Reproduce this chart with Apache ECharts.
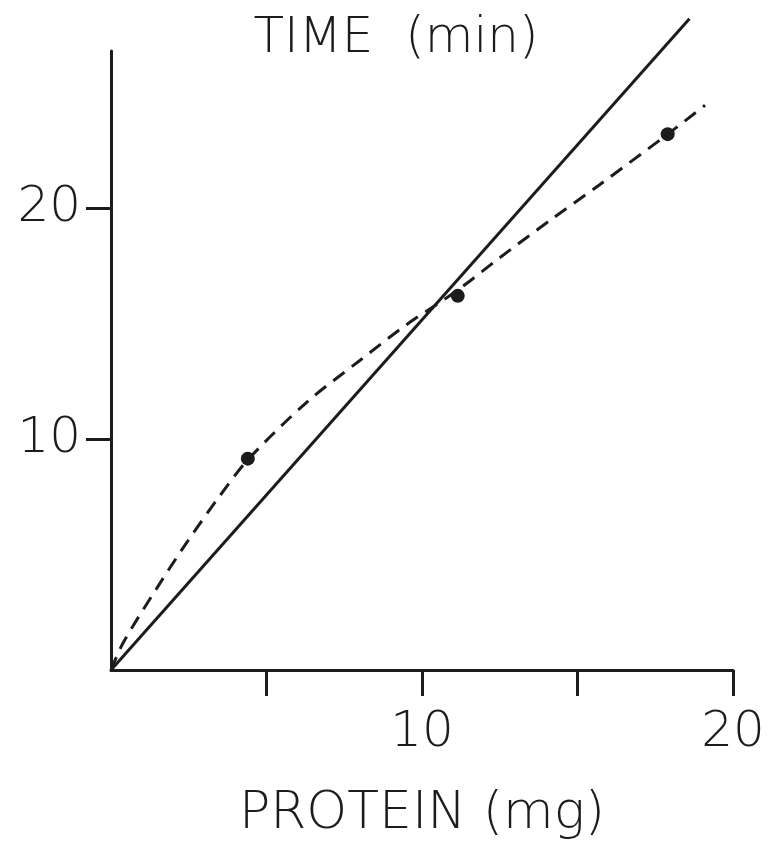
<!DOCTYPE html>
<html>
<head>
<meta charset="utf-8">
<script src="https://cdn.jsdelivr.net/npm/echarts@6/dist/echarts.min.js"></script>
<style>
    html, body { margin: 0; padding: 0; background: #fff; }
    #chart { width: 769px; height: 845px; }
</style>
</head>
<body>
<div id="chart"></div>
<script>
// 数据点 (蛋白质 mg, 时间 min)
const measured = [[4.4, 9.15], [11.15, 16.2], [17.9, 23.2]];
// 实线: 线性关系
const linearFit = [[0, 0], [18.6, 28.2]];
// 虚线: 曲线拟合
const curveFit = [
    [0, 0], [0.4, 1.2], [1.5, 3.6], [2.45, 5.55], [3.45, 7.45], [4.4, 9.1],
    [6.3, 11.6], [8.0, 13.4], [9.5, 14.95], [11.1, 16.4], [12.5, 17.85],
    [14.2, 19.55], [15.7, 21.0], [17.9, 23.2], [19.1, 24.45]
];
const xTicks = [5, 10, 15, 20];
const xLabels = [10, 20];
const yTicks = [10, 20];

const ink = '#1c1c1c';
const font = 'DejaVu Sans';

const chart = echarts.init(document.getElementById('chart'));
chart.setOption({
    animation: false,
    backgroundColor: '#fff',
    title: {
        text: 'TIME  (min)',
        left: 391,
        top: 9,
        textAlign: 'center',
        textStyle: { fontFamily: font, fontSize: 50, fontWeight: 300, color: ink }
    },
    grid: { left: 111, right: 36, top: 51, bottom: 175 },
    xAxis: {
        type: 'value',
        min: 0,
        max: 20,
        interval: 5,
        name: 'PROTEIN (mg)',
        nameLocation: 'middle',
        nameGap: 118,
        nameTextStyle: { fontFamily: font, fontSize: 52, fontWeight: 300, color: ink },
        splitLine: { show: false },
        axisLine: { show: true, lineStyle: { color: ink, width: 3 } },
        axisTick: {
            show: true, inside: false, length: 26,
            customValues: xTicks,
            lineStyle: { color: ink, width: 3 }
        },
        axisLabel: {
            customValues: xLabels,
            margin: 38,
            fontFamily: font, fontSize: 50, fontWeight: 300, color: ink
        }
    },
    yAxis: {
        type: 'value',
        min: 0,
        max: 26.8,
        interval: 10,
        splitLine: { show: false },
        axisLine: { show: true, lineStyle: { color: ink, width: 3 } },
        axisTick: {
            show: true, length: 25,
            customValues: yTicks,
            lineStyle: { color: ink, width: 3 }
        },
        axisLabel: {
            customValues: yTicks,
            margin: 30,
            fontFamily: font, fontSize: 50, fontWeight: 300, color: ink
        }
    },
    series: [
        {
            type: 'line',
            data: linearFit,
            clip: false,
            symbol: 'none',
            lineStyle: { color: ink, width: 3 }
        },
        {
            type: 'line',
            data: curveFit,
            clip: false,
            smooth: 0.3,
            symbol: 'none',
            lineStyle: { color: ink, width: 3, type: [14, 9] }
        },
        {
            type: 'scatter',
            data: measured,
            symbolSize: 14,
            itemStyle: { color: ink, opacity: 1 }
        }
    ]
});
</script>
</body>
</html>
